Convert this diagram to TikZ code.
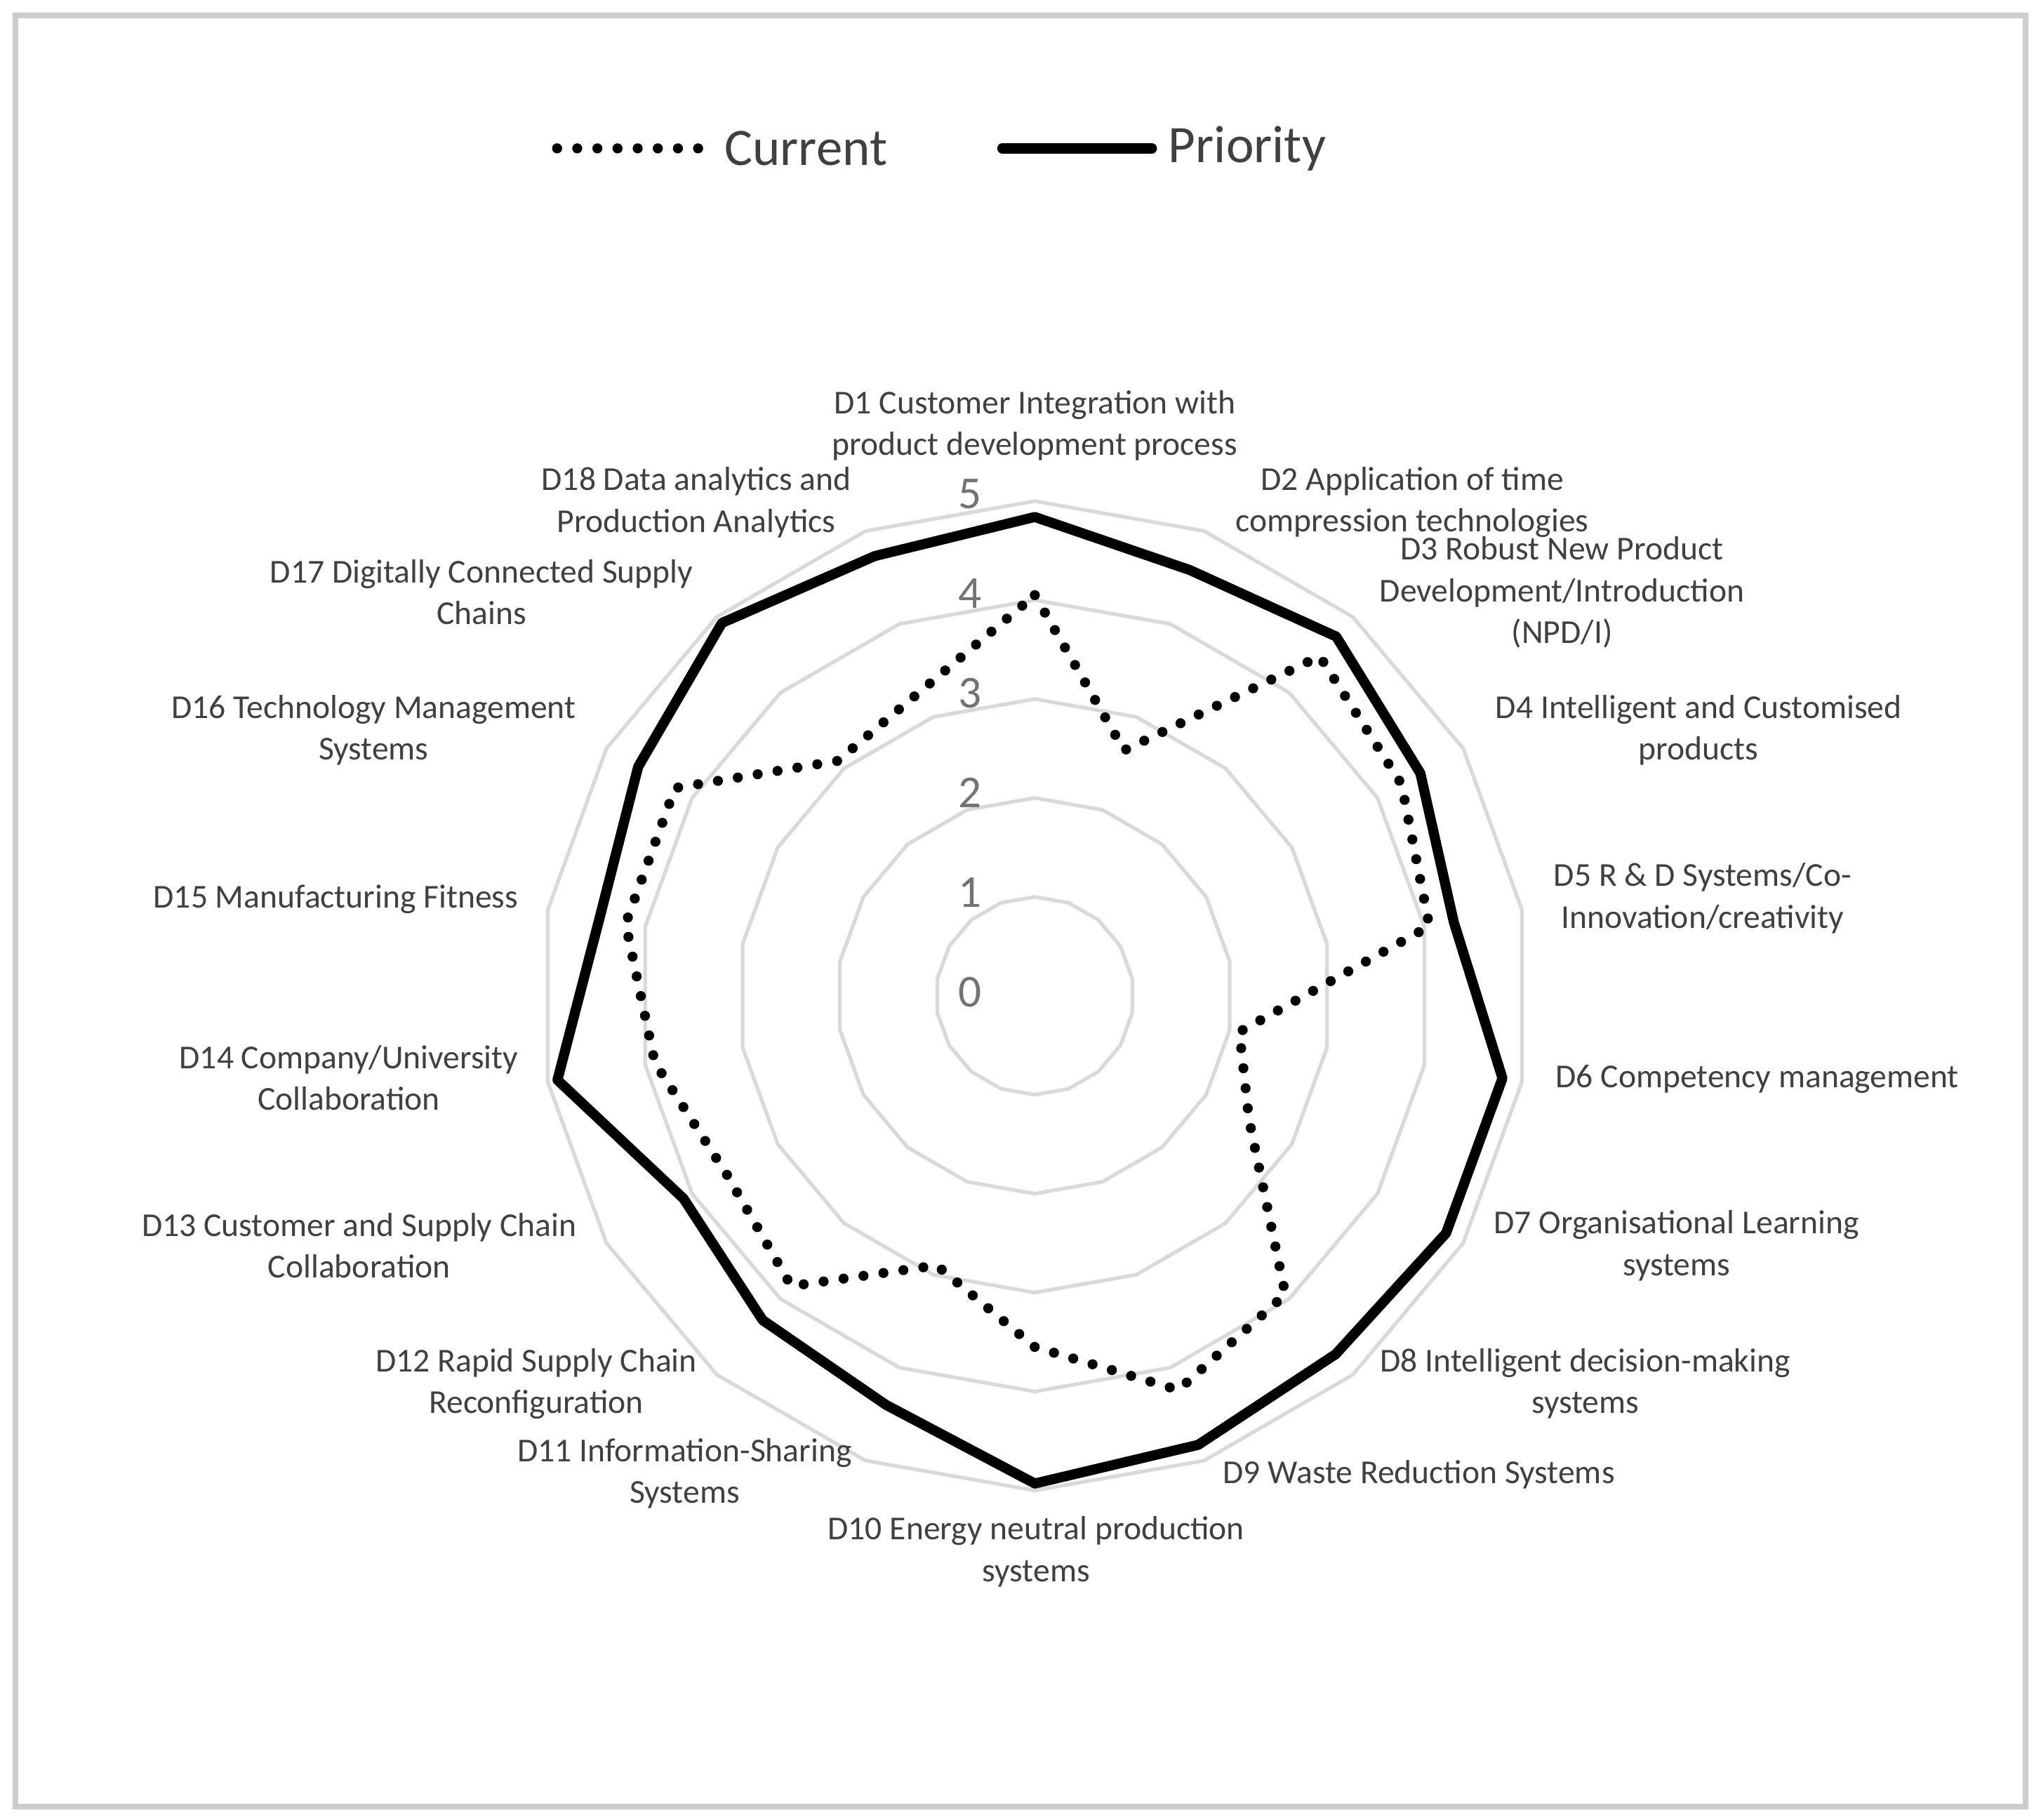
\documentclass[tikz,border=0pt]{standalone}
\usepackage{fontspec}
\setmainfont{Carlito}
\begin{document}
\begin{tikzpicture}[x=0.01cm,y=-0.01cm,
  grid/.style={draw=black!15,line width=0.8pt},
  prio/.style={draw=black,line width=2.2pt,line join=round},
  curr/.style={draw=black,line width=2.2pt,line cap=round,dash pattern=on 0pt off 4.4pt},
  lab/.style={text=black!75,align=center,font=\fontsize{7.3}{9.1}\selectfont,inner sep=0pt},
  num/.style={text=black!55,font=\fontsize{10}{12}\selectfont,inner sep=0pt},
  leg/.style={text=black!75,font=\fontsize{11.5}{13}\selectfont,inner sep=0pt,anchor=west}]
\useasboundingbox (0,0) rectangle (1568,1398);
\draw[black!20,line width=1.2pt] (12,12) rectangle (1556,1388);
% grid
\foreach \r in {1,...,5}{
  \draw[grid] plot[variable=\i,samples at={0,...,17}] ({795+76*\r*sin(20*\i)},{765-76*\r*cos(20*\i)}) -- cycle;
}
\foreach \v/\n in {0/n0,1/n1,2/n2,3/n3,4/n4,5/n5}{
  \node[num] (\n) at (745,{762-76.5*\v}) {\v};
}
% series
\draw[prio] plot[variable=\i,samples at={0,...,17}]
 ({795+76*{4.84,4.58,4.74,4.5,4.3,4.8,4.8,4.73,4.83,4.93,4.4,4.28,4.1,4.9,4.47,4.63,4.92,4.73}[\i]*sin(20*\i)},
  {765-76*{4.84,4.58,4.74,4.5,4.3,4.8,4.8,4.73,4.83,4.93,4.4,4.28,4.1,4.9,4.47,4.63,4.92,4.73}[\i]*cos(20*\i)}) -- cycle;
\draw[curr] plot[variable=\i,samples at={0,...,17}]
 ({795+76*{4.05,2.64,4.48,4.28,4.05,2.1,2.5,3.94,4.24,3.55,2.9,3.83,3.6,3.9,4.2,4.2,3.1,3.3}[\i]*sin(20*\i)},
  {765-76*{4.05,2.64,4.48,4.28,4.05,2.1,2.5,3.94,4.24,3.55,2.9,3.83,3.6,3.9,4.2,4.2,3.1,3.3}[\i]*cos(20*\i)}) -- cycle;
% labels
\node[lab] (d1) at (795,327) {D1 Customer Integration with\\product development process};
\node[lab] (d2) at (1085,386) {D2 Application of time\\compression technologies};
\node[lab] (d3) at (1200,455) {D3 Robust New Product\\Development/Introduction\\(NPD/I)};
\node[lab] (d4) at (1305,561) {D4 Intelligent and Customised\\products};
\node[lab] (d5) at (1308,690) {D5 R \& D Systems/Co-\\Innovation/creativity};
\node[lab] (d6) at (1350,829) {D6 Competency management};
\node[lab] (d7) at (1288,957) {D7 Organisational Learning\\systems};
\node[lab] (d8) at (1218,1063) {D8 Intelligent decision-making\\systems};
\node[lab] (d9) at (1090,1133) {D9 Waste Reduction Systems};
\node[lab] (d10) at (796,1192) {D10 Energy neutral production\\systems};
\node[lab] (d11) at (526,1132) {D11 Information-Sharing\\Systems};
\node[lab] (d12) at (412,1063) {D12 Rapid Supply Chain\\Reconfiguration};
\node[lab] (d13) at (276,957) {D13 Customer and Supply Chain\\Collaboration};
\node[lab] (d14) at (268,828) {D14 Company/University\\Collaboration};
\node[lab] (d15) at (258,691) {D15 Manufacturing Fitness};
\node[lab] (d16) at (287,561) {D16 Technology Management\\Systems};
\node[lab] (d17) at (370,455) {D17 Digitally Connected Supply\\Chains};
\node[lab] (d18) at (535,386) {D18 Data analytics and\\Production Analytics};
% legend
\coordinate (c1) at (428,114); \coordinate (c2) at (540,114);
\draw[curr] (c1) -- (c2);
\node[leg] (lc) at (556,114) {Current};
\coordinate (p1) at (770,114); \coordinate (p2) at (885,114);
\draw[prio,line cap=round] (p1) -- (p2);
\node[leg] (lp) at (897,114) {Priority};
\end{tikzpicture}
\end{document}
